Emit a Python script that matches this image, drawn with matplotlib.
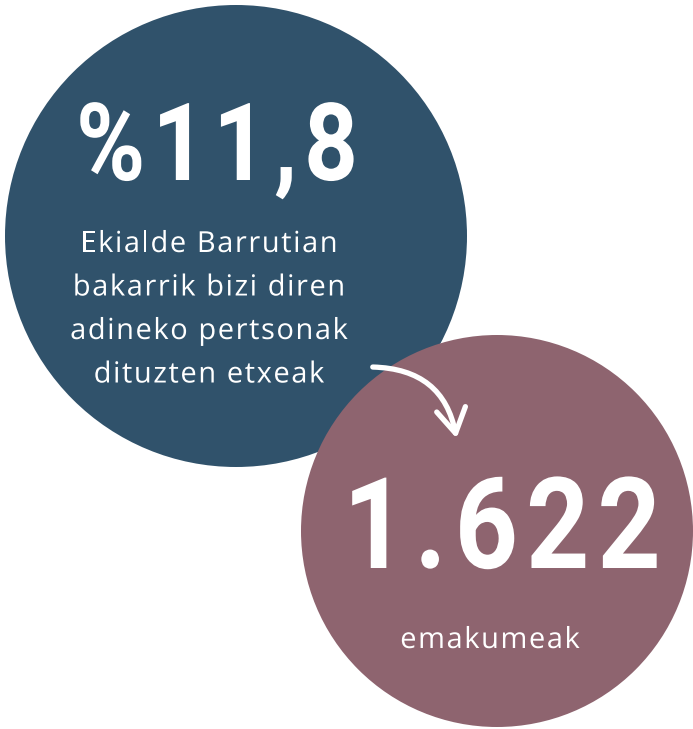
import matplotlib
matplotlib.use("Agg")
import matplotlib.pyplot as plt
import matplotlib.patches as mpatches
from matplotlib.textpath import TextPath
from matplotlib.transforms import Affine2D
from matplotlib.font_manager import FontProperties, findfont, get_font
from matplotlib import ft2font

W, H = 693, 729

# values and labels of the two bubbles
big_values = ["%11,8", "1.622"]
captions = [
    ["Ekialde Barrutian", "bakarrik bizi diren", "adineko pertsonak", "dituzten etxeak"],
    ["emakumeak"],
]
colors = ["#30526b", "#8e646f"]

# bubble geometry in pixels (x, y, radius)
centers = [(236, 236), (497, 531)]
radii = [231, 196]

try:
    NOHINT = ft2font.LoadFlags.NO_HINTING
except AttributeError:
    NOHINT = ft2font.LOAD_NO_HINTING


def spaced_text(ax, cx, baseline, s, size, prop, track=0.0, xscale=1.0, color="white"):
    # draw s centred on cx with extra letter spacing (track, px) and horizontal squeeze
    font = get_font(findfont(prop))
    font.set_size(size, 72)
    advs = []
    for ch in s:
        g = font.load_char(ord(ch), flags=NOHINT)
        advs.append(g.linearHoriAdvance / 65536 * xscale)
    total = sum(advs) + track * (len(s) - 1)
    x = cx - total / 2
    for ch, a in zip(s, advs):
        if ch != " ":
            tp = TextPath((0, 0), ch, size=size, prop=prop)
            tr = Affine2D().scale(xscale, -1).translate(x, baseline)
            ax.add_patch(mpatches.PathPatch(tr.transform_path(tp), facecolor=color,
                                            edgecolor="none", zorder=3))
        x += a + track


fig = plt.figure(figsize=(W / 100, H / 100), dpi=100)
ax = fig.add_axes([0, 0, 1, 1])
ax.set_xlim(0, W)
ax.set_ylim(H, 0)
ax.set_aspect("equal")
ax.axis("off")

for (cx, cy), r, c in zip(centers, radii, colors):
    ax.add_patch(mpatches.Circle((cx, cy), r, facecolor=c, edgecolor="none", zorder=1))

bold = FontProperties(family="Roboto", weight="bold")
body = FontProperties(family="Open Sans")

# big numbers
spaced_text(ax, 217, 180, big_values[0], 108, bold, track=7, xscale=0.87)
spaced_text(ax, 502, 568, big_values[1], 127, bold, track=8, xscale=0.87)

# captions
line_y = [252, 295.5, 339, 382.5]
for txt, y in zip(captions[0], line_y):
    spaced_text(ax, 209, y, txt, 29, body, track=1.6)
spaced_text(ax, 490, 648, captions[1][0], 29, body, track=1.6)

# curved arrow between bubbles
arrow = mpatches.FancyArrowPatch((370, 367), (457, 441),
                                 connectionstyle="arc3,rad=-0.42",
                                 arrowstyle="->,head_length=0.7,head_width=0.42",
                                 mutation_scale=25, color="white", lw=3.8,
                                 capstyle="round", joinstyle="round", zorder=4)
ax.add_patch(arrow)

fig.savefig("out.png", dpi=100)
